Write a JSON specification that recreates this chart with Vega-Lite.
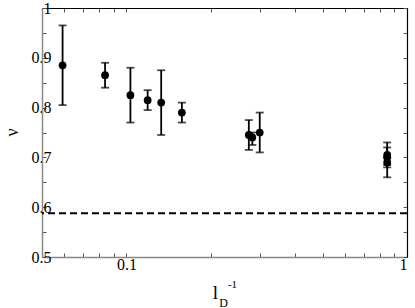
{
  "$schema": "https://vega.github.io/schema/vega-lite/v6.json",
  "width": 365,
  "height": 249,
  "autosize": "none",
  "padding": {"left": 42, "top": 8, "right": 8, "bottom": 51},
  "background": "white",
  "config": {
    "view": {"stroke": null},
    "axis": {
      "grid": false,
      "labelFont": "Liberation Serif",
      "titleFont": "Liberation Serif",
      "labelFontSize": 16,
      "labelColor": "black",
      "titleColor": "black",
      "titleFontWeight": "normal",
      "tickColor": "#555",
      "tickSize": -4,
      "tickWidth": 1
    }
  },
  "datasets": {
    "pts": [
      {"inv_lD": 0.0592, "nu": 0.885, "lo": 0.805, "hi": 0.965},
      {"inv_lD": 0.0839, "nu": 0.865, "lo": 0.84, "hi": 0.89},
      {"inv_lD": 0.1033, "nu": 0.825, "lo": 0.77, "hi": 0.88},
      {"inv_lD": 0.119, "nu": 0.815, "lo": 0.795, "hi": 0.835},
      {"inv_lD": 0.133, "nu": 0.81, "lo": 0.745, "hi": 0.875},
      {"inv_lD": 0.1576, "nu": 0.79, "lo": 0.77, "hi": 0.81},
      {"inv_lD": 0.273, "nu": 0.745, "lo": 0.715, "hi": 0.775},
      {"inv_lD": 0.281, "nu": 0.74, "lo": 0.725, "hi": 0.75},
      {"inv_lD": 0.2986, "nu": 0.75, "lo": 0.71, "hi": 0.79},
      {"inv_lD": 0.85, "nu": 0.705, "lo": 0.68, "hi": 0.73},
      {"inv_lD": 0.85, "nu": 0.7, "lo": 0.685, "hi": 0.72},
      {"inv_lD": 0.85, "nu": 0.69, "lo": 0.66, "hi": 0.7}
    ]
  },
  "data": {"name": "pts"},
  "resolve": {"axis": {"x": "independent", "y": "independent"}},
  "layer": [
    {
      "mark": {"type": "rule", "strokeDash": [7, 4], "strokeWidth": 2, "color": "black"},
      "data": {"values": [{"nu_ref": 0.588}]},
      "encoding": {
        "y": {"field": "nu_ref", "type": "quantitative", "scale": {"domain": [0.5, 1]}, "axis": null}
      }
    },
    {
      "mark": {"type": "rule", "strokeWidth": 1.8, "color": "black"},
      "encoding": {
        "x": {
          "field": "inv_lD", "type": "quantitative",
          "scale": {"type": "log", "domain": [0.05, 1], "nice": false},
          "axis": {
            "orient": "top",
            "values": [0.05, 0.06, 0.07, 0.08, 0.09, 0.1, 0.2, 0.3, 0.4, 0.5, 0.6, 0.7, 0.8, 0.9, 1],
            "labels": false,
            "domainColor": "black",
            "domainWidth": 1.2,
            "title": "D",
            "titleFontSize": 12,
            "titleX": 181,
            "titleY": 298,
            "titleAlign": "center",
            "titleBaseline": "alphabetic",
            "titleAngle": 0
          }
        },
        "y": {
          "field": "lo", "type": "quantitative",
          "scale": {"domain": [0.5, 1], "nice": false, "zero": false},
          "axis": {
            "orient": "right",
            "values": [0.5, 0.55, 0.6, 0.65, 0.7, 0.75, 0.8, 0.85, 0.9, 0.95, 1],
            "labels": false,
            "domainColor": "black",
            "domainWidth": 1.2,
            "title": "-1",
            "titleFontSize": 11,
            "titleX": -175,
            "titleY": 279,
            "titleAngle": 0,
            "titleAlign": "center",
            "titleBaseline": "alphabetic"
          }
        },
        "y2": {"field": "hi"}
      }
    },
    {
      "mark": {"type": "tick", "orient": "horizontal", "size": 8, "thickness": 1.8, "color": "black"},
      "encoding": {
        "x": {"field": "inv_lD", "type": "quantitative", "scale": {"type": "log", "domain": [0.05, 1], "nice": false}, "axis": null},
        "y": {"field": "lo", "type": "quantitative", "scale": {"domain": [0.5, 1], "nice": false, "zero": false}, "axis": null}
      }
    },
    {
      "mark": {"type": "tick", "orient": "horizontal", "size": 8, "thickness": 1.8, "color": "black"},
      "encoding": {
        "x": {"field": "inv_lD", "type": "quantitative", "scale": {"type": "log", "domain": [0.05, 1], "nice": false}, "axis": null},
        "y": {"field": "hi", "type": "quantitative", "scale": {"domain": [0.5, 1], "nice": false, "zero": false}, "axis": null}
      }
    },
    {
      "mark": {"type": "point", "filled": true, "opacity": 1, "size": 60, "color": "black"},
      "encoding": {
        "x": {
          "field": "inv_lD", "type": "quantitative",
          "scale": {"type": "log", "domain": [0.05, 1], "nice": false},
          "axis": {
            "orient": "bottom",
            "values": [0.05, 0.06, 0.07, 0.08, 0.09, 0.1, 0.2, 0.3, 0.4, 0.5, 0.6, 0.7, 0.8, 0.9, 1],
            "labelExpr": "datum.value == 0.1 ? '0.1' : datum.value == 1 ? '1' : ''",
            "labelPadding": 3,
            "domainColor": "#888",
            "domainWidth": 1.5,
            "title": "l",
            "titleFontSize": 19,
            "titleX": 173,
            "titleY": 41,
            "titleAlign": "center",
            "titleBaseline": "alphabetic",
            "titleAngle": 0
          }
        },
        "y": {
          "field": "nu", "type": "quantitative",
          "scale": {"domain": [0.5, 1], "nice": false, "zero": false},
          "axis": {
            "orient": "left",
            "values": [0.5, 0.55, 0.6, 0.65, 0.7, 0.75, 0.8, 0.85, 0.9, 0.95, 1],
            "labelExpr": "round(datum.value * 100) % 10 == 0 ? format(datum.value, '.1~f') : ''",
            "labelPadding": -5,
            "domainColor": "#888",
            "domainWidth": 1.5,
            "title": "ν",
            "titleFontSize": 18,
            "titleX": -30,
            "titleY": 124,
            "titleAngle": 270,
            "titleAlign": "center",
            "titleBaseline": "middle"
          }
        }
      }
    }
  ]
}
